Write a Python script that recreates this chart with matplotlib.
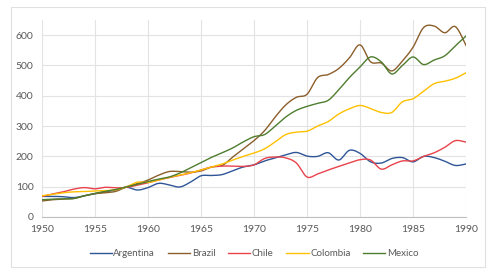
# GDP index chart for five Latin American countries, 1950-1990
import matplotlib
matplotlib.use('Agg')
import matplotlib.pyplot as plt
import matplotlib.patches as mpatches
import numpy as np

years = list(range(1950, 1991))

argentina = [68, 68, 67, 64, 70, 77, 83, 90, 98, 89, 97, 111, 106, 99, 115, 136, 137, 140, 153, 165,
             172, 185, 195, 205, 213, 201, 200, 212, 188, 220, 210, 182, 178, 193, 196, 182, 200, 196, 184, 170, 175]
brazil = [53, 57, 59, 61, 70, 77, 80, 85, 100, 110, 122, 138, 150, 150, 148, 152, 165, 170, 198, 225,
          252, 285, 330, 370, 395, 405, 460, 470, 490, 525, 568, 512, 508, 482, 515, 560, 625, 630, 608, 628, 566]
chile = [68, 76, 83, 92, 97, 93, 98, 96, 98, 105, 113, 122, 130, 137, 145, 155, 165, 168, 168, 167,
         172, 193, 198, 195, 178, 132, 142, 155, 167, 178, 189, 188, 158, 172, 185, 185, 200, 212, 230, 252, 247]
colombia = [70, 75, 80, 83, 84, 86, 87, 90, 100, 115, 114, 122, 131, 138, 146, 155, 165, 175, 188, 200,
            211, 225, 248, 272, 280, 283, 300, 315, 340, 357, 368, 358, 345, 345, 380, 390, 415, 440, 448, 458, 476]
mexico = [57, 59, 60, 61, 70, 78, 85, 91, 100, 108, 117, 125, 132, 145, 162, 180, 197, 212, 228, 248,
          265, 272, 300, 330, 352, 365, 375, 385, 420, 460, 495, 528, 512, 472, 500, 528, 503, 518, 532, 565, 597]

series = [
    ('Argentina', argentina, '#2F5597'),
    ('Brazil', brazil, '#8B5E2B'),
    ('Chile', chile, '#E8434B'),
    ('Colombia', colombia, '#FFC000'),
    ('Mexico', mexico, '#4E7D2E'),
]


def smooth(x, y, steps=12):
    """Catmull-Rom curve through the points, like Excel's smoothed line."""
    x = np.asarray(x, float)
    y = np.asarray(y, float)
    px = np.concatenate([[x[0]], x, [x[-1]]])
    py = np.concatenate([[y[0]], y, [y[-1]]])
    t = np.linspace(0, 1, steps, endpoint=False)
    xs, ys = [], []
    for i in range(1, len(px) - 2):
        for p, out in ((px, xs), (py, ys)):
            p0, p1, p2, p3 = p[i - 1], p[i], p[i + 1], p[i + 2]
            out.extend(0.5 * ((2 * p1) + (-p0 + p2) * t +
                              (2 * p0 - 5 * p1 + 4 * p2 - p3) * t ** 2 +
                              (-p0 + 3 * p1 - 3 * p2 + p3) * t ** 3))
    xs.append(x[-1])
    ys.append(y[-1])
    return xs, ys


plt.rcParams['font.family'] = ['Lato', 'DejaVu Sans']

fig = plt.figure(figsize=(4.92, 2.70), dpi=100)
ax = fig.add_axes([42 / 492, 53 / 270, 424 / 492, 197 / 270])

for name, vals, color in series:
    sx, sy = smooth(years, vals)
    ax.plot(sx, sy, color=color, lw=1.0, label=name)

ax.set_xlim(1950, 1990)
ax.set_ylim(0, 650)
ax.set_xticks(range(1950, 1991, 5))
ax.set_yticks(range(0, 601, 100))
ax.grid(True, color='#E3E3E3', lw=0.8)
ax.set_axisbelow(True)
for side in ['left', 'right', 'top']:
    ax.spines[side].set_visible(False)
ax.spines['bottom'].set_color('#BFBFBF')
ax.tick_params(length=0, labelsize=7.5, colors='#595959', pad=6)

ax.legend(loc='upper center', bbox_to_anchor=(0.5, -0.12), ncol=5, frameon=False,
          fontsize=7, handlelength=2.3, handletextpad=0.15, columnspacing=1.3,
          labelcolor='#595959')

# light frame around the chart area
fig.patches.append(mpatches.Rectangle((10.5 / 492, 3 / 270), 474 / 492, 260 / 270,
                                      transform=fig.transFigure, fill=False,
                                      edgecolor='#E0E0E0', lw=0.8))

fig.savefig('out.png', dpi=100)
